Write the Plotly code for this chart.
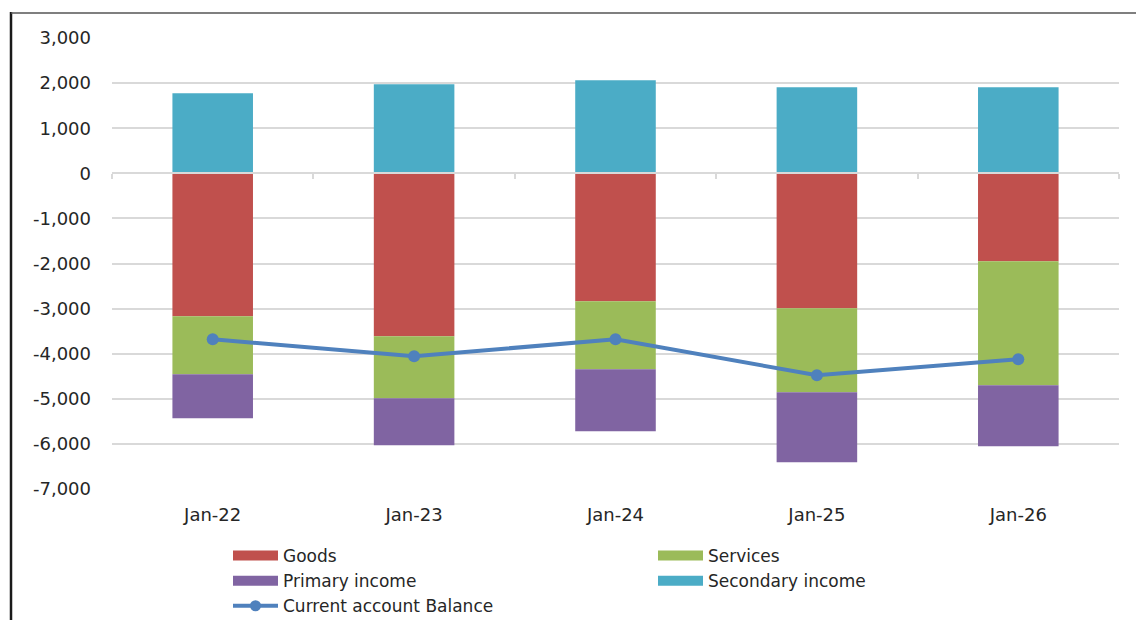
import plotly.graph_objects as go

categories = ["Jan-22", "Jan-23", "Jan-24", "Jan-25", "Jan-26"]
goods = [-3170, -3614, -2838, -2993, -1951]
services = [-1287, -1375, -1508, -1863, -2750]
primary_income = [-975, -1042, -1375, -1552, -1352]
secondary_income = [1774, 1973, 2062, 1907, 1907]
current_account = [-3680, -4058, -3680, -4479, -4124]
y_ticks = [3000, 2000, 1000, 0, -1000, -2000, -3000, -4000, -5000, -6000, -7000]
y_tick_labels = ["{:,}".format(v) for v in y_ticks]

C_GOODS = "#C0504D"
C_SERV = "#9BBB59"
C_PRIM = "#8064A2"
C_SEC = "#4BACC6"
C_LINE = "#4F81BD"
FONT = "DejaVu Sans"
FS = 18

W, H = 1136, 620
L, R, T, B = 112, 17, 38, 131
PW, PH = W - L - R, H - T - B

def px(x):
    return (x - L) / PW

def py(y):
    return (H - B - y) / PH

fig = go.Figure()
for name, vals, col in [("Goods", goods, C_GOODS), ("Services", services, C_SERV),
                        ("Primary income", primary_income, C_PRIM),
                        ("Secondary income", secondary_income, C_SEC)]:
    fig.add_trace(go.Bar(x=categories, y=vals, name=name, marker=dict(color=col, line=dict(width=0)),
                         showlegend=False, legendgroup=name))

fig.add_trace(go.Scatter(x=categories, y=current_account, mode="lines+markers",
                         line=dict(color=C_LINE, width=4), marker=dict(size=12, color=C_LINE),
                         showlegend=False, legendgroup="ca"))

# legend entries (wide swatches)
for name, col in [("Goods", C_GOODS), ("Services", C_SERV),
                  ("Primary income", C_PRIM), ("Secondary income", C_SEC)]:
    fig.add_trace(go.Scatter(x=[None], y=[None], mode="lines", name=name, legendgroup=name,
                             line=dict(color=col, width=10)))
fig.add_trace(go.Scatter(x=[None], y=[None], mode="lines+markers", name="Current account Balance",
                         legendgroup="ca", line=dict(color=C_LINE, width=4),
                         marker=dict(size=11, color=C_LINE)))

# dummy trace so xaxis2 renders
fig.add_trace(go.Scatter(x=[0], y=[0], xaxis="x2", mode="markers", marker=dict(opacity=0),
                         showlegend=False, hoverinfo="skip"))

fig.update_layout(
    width=W, height=H,
    margin=dict(l=L, r=R, t=T, b=B, autoexpand=False),
    barmode="relative", bargap=0.6,
    plot_bgcolor="white", paper_bgcolor="white",
    font=dict(family=FONT, size=FS, color="#262626"),
    xaxis=dict(type="category", showgrid=False, showline=False, ticks="", zeroline=False,
               ticklabelstandoff=13, tickfont=dict(size=FS)),
    xaxis2=dict(overlaying="x", anchor="free", position=0.7,
                range=[-0.5, 4.5], tickvals=[-0.5, 0.5, 1.5, 2.5, 3.5, 4.5],
                showticklabels=False, ticks="outside", ticklen=5, tickcolor="#d9d9d9", tickwidth=1.5,
                showline=True, linecolor="#d9d9d9", linewidth=1.5, showgrid=False, zeroline=False),
    yaxis=dict(range=[-7000, 3000], tickvals=y_ticks, ticktext=y_tick_labels, showgrid=True,
               gridcolor="#d9d9d9", gridwidth=1.5, zeroline=False, ticks="", ticklabelstandoff=20,
               showline=False, tickfont=dict(size=FS)),
    legend=dict(orientation="h", x=px(228), xanchor="left", y=py(538), yanchor="top",
                entrywidth=365, entrywidthmode="pixels", font=dict(size=FS - 1), tracegroupgap=0,
                itemwidth=45, bgcolor="rgba(0,0,0,0)"),
    shapes=[
        dict(type="line", xref="paper", yref="paper", x0=px(11), x1=px(11), y0=py(12), y1=py(621),
             line=dict(color="#1a1a1a", width=2.5)),
        dict(type="line", xref="paper", yref="paper", x0=px(11), x1=px(1137), y0=py(13), y1=py(13),
             line=dict(color="#555555", width=1.4)),
    ],
)

fig.write_html("out.html", config={"displayModeBar": False},
               post_script="document.body.style.margin='0';document.body.style.overflow='hidden';")
